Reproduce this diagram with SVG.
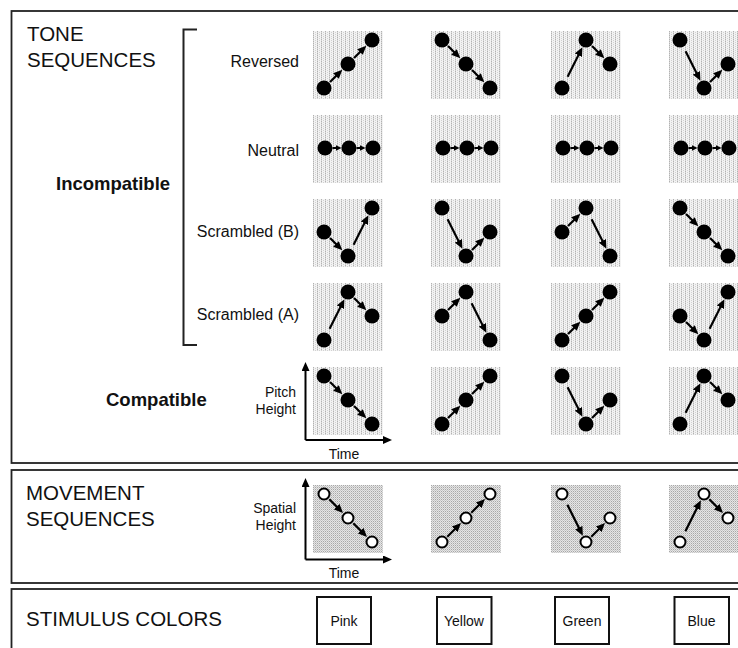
<svg xmlns="http://www.w3.org/2000/svg" width="738" height="648" viewBox="0 0 738 648">
<style>
.frame{fill:none;stroke:#222;stroke-width:1.8}
.sans{font-family:"Liberation Sans",Arial,sans-serif;fill:#111}
.h{font-size:20.5px}
.lbl{font-size:16px;text-anchor:end}
.sm{font-size:14px}
.smr{font-size:14px;text-anchor:end}
.mid{text-anchor:middle}
.b{font-size:18.5px;font-weight:bold}
.tp{fill:url(#tonePat)}
.mp{fill:url(#movePat)}
.d{fill:#000}
.o{fill:#fff;stroke:#000;stroke-width:2}
.ar{stroke:#000;stroke-width:2.2;fill:none;marker-end:url(#ah)}
.arn{stroke:#000;stroke-width:2;fill:none;marker-end:url(#ahs)}
.axis{stroke:#000;stroke-width:2;fill:none;marker-end:url(#ah)}
.cbox{fill:#fff;stroke:#111;stroke-width:2}
.br{fill:none;stroke:#222;stroke-width:2}
</style>
<defs>
<pattern id="tonePat" patternUnits="userSpaceOnUse" width="4" height="2">
<rect width="4" height="2" fill="#f3f3f3"/>
<rect x="0" y="0" width="1" height="1" fill="#b2b2b2"/>
<rect x="0" y="1" width="1" height="1" fill="#d6d6d6"/>
<rect x="2" y="1" width="1" height="1" fill="#d2d2d2"/>
</pattern>
<pattern id="movePat" patternUnits="userSpaceOnUse" width="2" height="2">
<rect width="2" height="2" fill="#e6e6e6"/>
<rect x="0" y="0" width="1" height="1" fill="#a8a8a8"/>
<rect x="1" y="1" width="1" height="1" fill="#c8c8c8"/>
</pattern>
<marker id="ah" viewBox="0 0 9 8" refX="4" refY="4" markerWidth="9" markerHeight="8" markerUnits="userSpaceOnUse" orient="auto">
<path d="M0,0L9,4L0,8z" fill="#000"/>
</marker>
<marker id="ahs" viewBox="0 0 6 6" refX="2" refY="3" markerWidth="6" markerHeight="6" markerUnits="userSpaceOnUse" orient="auto">
<path d="M0,0L6,3L0,6z" fill="#000"/>
</marker>
</defs>

<g id="frames">
<rect class="frame" x="11.5" y="11" width="740" height="452"/>
<rect class="frame" x="11.5" y="470" width="740" height="113"/>
<rect class="frame" x="11.5" y="589" width="740" height="70"/>
</g>

<g id="labels" class="sans">
<text class="h" x="27" y="41">TONE</text>
<text class="h" x="27" y="66.5">SEQUENCES</text>
<text class="b" x="56" y="190">Incompatible</text>
<text class="b" x="106" y="406">Compatible</text>
<text class="lbl" x="299" y="67">Reversed</text>
<text class="lbl" x="299" y="156">Neutral</text>
<text class="lbl" x="299" y="237">Scrambled (B)</text>
<text class="lbl" x="299" y="320">Scrambled (A)</text>
<text class="smr" x="296" y="397">Pitch</text>
<text class="smr" x="296" y="414">Height</text>
<text class="sm mid" x="344" y="459">Time</text>
<text class="h" x="26" y="500">MOVEMENT</text>
<text class="h" x="26" y="526">SEQUENCES</text>
<text class="smr" x="296" y="513">Spatial</text>
<text class="smr" x="296" y="530">Height</text>
<text class="sm mid" x="344" y="578">Time</text>
<text class="h" x="26" y="626">STIMULUS COLORS</text>
</g>

<path id="bracket" class="br" d="M197,29.5H183.5V345H197"/>

<g id="axes">
<path class="axis" d="M305.5,440V367"/>
<path class="axis" d="M305.5,440H387"/>
<path class="axis" d="M305.5,559.5V483"/>
<path class="axis" d="M305.5,559.5H387"/>
</g>

<!-- Row 1 Reversed -->
<g id="r1c1" transform="translate(313,31)"><rect class="tp" width="70" height="68"/><circle class="d" cx="11" cy="57" r="7.5"/><circle class="d" cx="35" cy="33" r="7.5"/><circle class="d" cx="59" cy="9" r="7.5"/></g>
<g id="r1c2" transform="translate(431,31)"><rect class="tp" width="70" height="68"/><circle class="d" cx="11" cy="9" r="7.5"/><circle class="d" cx="35" cy="33" r="7.5"/><circle class="d" cx="59" cy="57" r="7.5"/></g>
<g id="r1c3" transform="translate(551,31)"><rect class="tp" width="70" height="68"/><circle class="d" cx="11" cy="57" r="7.5"/><circle class="d" cx="35" cy="9" r="7.5"/><circle class="d" cx="59" cy="33" r="7.5"/></g>
<g id="r1c4" transform="translate(669,31)"><rect class="tp" width="70" height="68"/><circle class="d" cx="11" cy="9" r="7.5"/><circle class="d" cx="35" cy="57" r="7.5"/><circle class="d" cx="59" cy="33" r="7.5"/></g>
<!-- Row 2 Neutral -->
<g id="r2c1" transform="translate(313,115)"><rect class="tp" width="70" height="68"/><circle class="d" cx="12" cy="33" r="7.5"/><circle class="d" cx="36" cy="33" r="7.5"/><circle class="d" cx="60" cy="33" r="7.5"/></g>
<g id="r2c2" transform="translate(431,115)"><rect class="tp" width="70" height="68"/><circle class="d" cx="12" cy="33" r="7.5"/><circle class="d" cx="36" cy="33" r="7.5"/><circle class="d" cx="60" cy="33" r="7.5"/></g>
<g id="r2c3" transform="translate(551,115)"><rect class="tp" width="70" height="68"/><circle class="d" cx="12" cy="33" r="7.5"/><circle class="d" cx="36" cy="33" r="7.5"/><circle class="d" cx="60" cy="33" r="7.5"/></g>
<g id="r2c4" transform="translate(669,115)"><rect class="tp" width="70" height="68"/><circle class="d" cx="12" cy="33" r="7.5"/><circle class="d" cx="36" cy="33" r="7.5"/><circle class="d" cx="60" cy="33" r="7.5"/></g>
<!-- Row 3 Scrambled B -->
<g id="r3c1" transform="translate(313,199)"><rect class="tp" width="70" height="68"/><circle class="d" cx="11" cy="33" r="7.5"/><circle class="d" cx="35" cy="57" r="7.5"/><circle class="d" cx="59" cy="9" r="7.5"/></g>
<g id="r3c2" transform="translate(431,199)"><rect class="tp" width="70" height="68"/><circle class="d" cx="11" cy="9" r="7.5"/><circle class="d" cx="35" cy="57" r="7.5"/><circle class="d" cx="59" cy="33" r="7.5"/></g>
<g id="r3c3" transform="translate(551,199)"><rect class="tp" width="70" height="68"/><circle class="d" cx="11" cy="33" r="7.5"/><circle class="d" cx="35" cy="9" r="7.5"/><circle class="d" cx="59" cy="57" r="7.5"/></g>
<g id="r3c4" transform="translate(669,199)"><rect class="tp" width="70" height="68"/><circle class="d" cx="11" cy="9" r="7.5"/><circle class="d" cx="35" cy="33" r="7.5"/><circle class="d" cx="59" cy="57" r="7.5"/></g>
<!-- Row 4 Scrambled A -->
<g id="r4c1" transform="translate(313,283)"><rect class="tp" width="70" height="68"/><circle class="d" cx="11" cy="57" r="7.5"/><circle class="d" cx="35" cy="9" r="7.5"/><circle class="d" cx="59" cy="33" r="7.5"/></g>
<g id="r4c2" transform="translate(431,283)"><rect class="tp" width="70" height="68"/><circle class="d" cx="11" cy="33" r="7.5"/><circle class="d" cx="35" cy="9" r="7.5"/><circle class="d" cx="59" cy="57" r="7.5"/></g>
<g id="r4c3" transform="translate(551,283)"><rect class="tp" width="70" height="68"/><circle class="d" cx="11" cy="57" r="7.5"/><circle class="d" cx="35" cy="33" r="7.5"/><circle class="d" cx="59" cy="9" r="7.5"/></g>
<g id="r4c4" transform="translate(669,283)"><rect class="tp" width="70" height="68"/><circle class="d" cx="11" cy="33" r="7.5"/><circle class="d" cx="35" cy="57" r="7.5"/><circle class="d" cx="59" cy="9" r="7.5"/></g>
<!-- Row 5 Compatible -->
<g id="r5c1" transform="translate(313,367)"><rect class="tp" width="70" height="68"/><circle class="d" cx="11" cy="9" r="7.5"/><circle class="d" cx="35" cy="33" r="7.5"/><circle class="d" cx="59" cy="57" r="7.5"/></g>
<g id="r5c2" transform="translate(431,367)"><rect class="tp" width="70" height="68"/><circle class="d" cx="11" cy="57" r="7.5"/><circle class="d" cx="35" cy="33" r="7.5"/><circle class="d" cx="59" cy="9" r="7.5"/></g>
<g id="r5c3" transform="translate(551,367)"><rect class="tp" width="70" height="68"/><circle class="d" cx="11" cy="9" r="7.5"/><circle class="d" cx="35" cy="57" r="7.5"/><circle class="d" cx="59" cy="33" r="7.5"/></g>
<g id="r5c4" transform="translate(669,367)"><rect class="tp" width="70" height="68"/><circle class="d" cx="11" cy="57" r="7.5"/><circle class="d" cx="35" cy="9" r="7.5"/><circle class="d" cx="59" cy="33" r="7.5"/></g>
<!-- Movement -->
<g id="m1" transform="translate(313,485)"><rect class="mp" width="70" height="68"/><circle class="o" cx="11" cy="9" r="5.5"/><circle class="o" cx="35" cy="33" r="5.5"/><circle class="o" cx="59" cy="57" r="5.5"/></g>
<g id="m2" transform="translate(431,485)"><rect class="mp" width="70" height="68"/><circle class="o" cx="11" cy="57" r="5.5"/><circle class="o" cx="35" cy="33" r="5.5"/><circle class="o" cx="59" cy="9" r="5.5"/></g>
<g id="m3" transform="translate(551,485)"><rect class="mp" width="70" height="68"/><circle class="o" cx="11" cy="9" r="5.5"/><circle class="o" cx="35" cy="57" r="5.5"/><circle class="o" cx="59" cy="33" r="5.5"/></g>
<g id="m4" transform="translate(669,485)"><rect class="mp" width="70" height="68"/><circle class="o" cx="11" cy="57" r="5.5"/><circle class="o" cx="35" cy="9" r="5.5"/><circle class="o" cx="59" cy="33" r="5.5"/></g>

<!-- Stimulus colors -->
<g id="pink"><rect class="cbox" x="317" y="597" width="54" height="47"/><text class="sans sm mid" x="344" y="625.5">Pink</text></g>
<g id="yellow"><rect class="cbox" x="437" y="597" width="54.5" height="47"/><text class="sans sm mid" x="464" y="625.5">Yellow</text></g>
<g id="green"><rect class="cbox" x="555" y="597" width="54" height="47"/><text class="sans sm mid" x="582" y="625.5">Green</text></g>
<g id="blue"><rect class="cbox" x="674.5" y="597" width="54.5" height="47"/><text class="sans sm mid" x="701.5" y="625.5">Blue</text></g>

<g id="connectors">
<g transform="translate(313,31)"><path class="ar" d="M17.01,50.99L25.81,42.19"/><path class="ar" d="M41.01,26.99L49.81,18.19"/></g>
<g transform="translate(431,31)"><path class="ar" d="M17.01,15.01L25.81,23.81"/><path class="ar" d="M41.01,39.01L49.81,47.81"/></g>
<g transform="translate(551,31)"><path class="ar" d="M16.59,45.82L29.18,20.63"/><path class="ar" d="M41.01,15.01L49.81,23.81"/></g>
<g transform="translate(669,31)"><path class="ar" d="M16.59,20.18L29.18,45.37"/><path class="ar" d="M41.01,50.99L49.81,42.19"/></g>

<g transform="translate(313,115)"><path class="arn" d="M19.5,33H24.5"/><path class="arn" d="M43.5,33H48.5"/></g>
<g transform="translate(431,115)"><path class="arn" d="M19.5,33H24.5"/><path class="arn" d="M43.5,33H48.5"/></g>
<g transform="translate(551,115)"><path class="arn" d="M19.5,33H24.5"/><path class="arn" d="M43.5,33H48.5"/></g>
<g transform="translate(669,115)"><path class="arn" d="M19.5,33H24.5"/><path class="arn" d="M43.5,33H48.5"/></g>

<g transform="translate(313,199)"><path class="ar" d="M17.01,39.01L25.81,47.81"/><path class="ar" d="M40.59,45.82L53.18,20.63"/></g>
<g transform="translate(431,199)"><path class="ar" d="M16.59,20.18L29.18,45.37"/><path class="ar" d="M41.01,50.99L49.81,42.19"/></g>
<g transform="translate(551,199)"><path class="ar" d="M17.01,26.99L25.81,18.19"/><path class="ar" d="M40.59,20.18L53.18,45.37"/></g>
<g transform="translate(669,199)"><path class="ar" d="M17.01,15.01L25.81,23.81"/><path class="ar" d="M41.01,39.01L49.81,47.81"/></g>

<g transform="translate(313,283)"><path class="ar" d="M16.59,45.82L29.18,20.63"/><path class="ar" d="M41.01,15.01L49.81,23.81"/></g>
<g transform="translate(431,283)"><path class="ar" d="M17.01,26.99L25.81,18.19"/><path class="ar" d="M40.59,20.18L53.18,45.37"/></g>
<g transform="translate(551,283)"><path class="ar" d="M17.01,50.99L25.81,42.19"/><path class="ar" d="M41.01,26.99L49.81,18.19"/></g>
<g transform="translate(669,283)"><path class="ar" d="M17.01,39.01L25.81,47.81"/><path class="ar" d="M40.59,45.82L53.18,20.63"/></g>

<g transform="translate(313,367)"><path class="ar" d="M17.01,15.01L25.81,23.81"/><path class="ar" d="M41.01,39.01L49.81,47.81"/></g>
<g transform="translate(431,367)"><path class="ar" d="M17.01,50.99L25.81,42.19"/><path class="ar" d="M41.01,26.99L49.81,18.19"/></g>
<g transform="translate(551,367)"><path class="ar" d="M16.59,20.18L29.18,45.37"/><path class="ar" d="M41.01,50.99L49.81,42.19"/></g>
<g transform="translate(669,367)"><path class="ar" d="M16.59,45.82L29.18,20.63"/><path class="ar" d="M41.01,15.01L49.81,23.81"/></g>

<g transform="translate(313,485)"><path class="ar" d="M16.3,14.3L26.51,24.51"/><path class="ar" d="M40.3,38.3L50.51,48.51"/></g>
<g transform="translate(431,485)"><path class="ar" d="M16.3,51.7L26.51,41.49"/><path class="ar" d="M40.3,27.7L50.51,17.49"/></g>
<g transform="translate(551,485)"><path class="ar" d="M16.37,19.73L29.63,46.27"/><path class="ar" d="M40.3,51.7L50.51,41.49"/></g>
<g transform="translate(669,485)"><path class="ar" d="M16.37,46.27L29.63,19.73"/><path class="ar" d="M40.3,14.3L50.51,24.51"/></g>
</g>
</svg>
